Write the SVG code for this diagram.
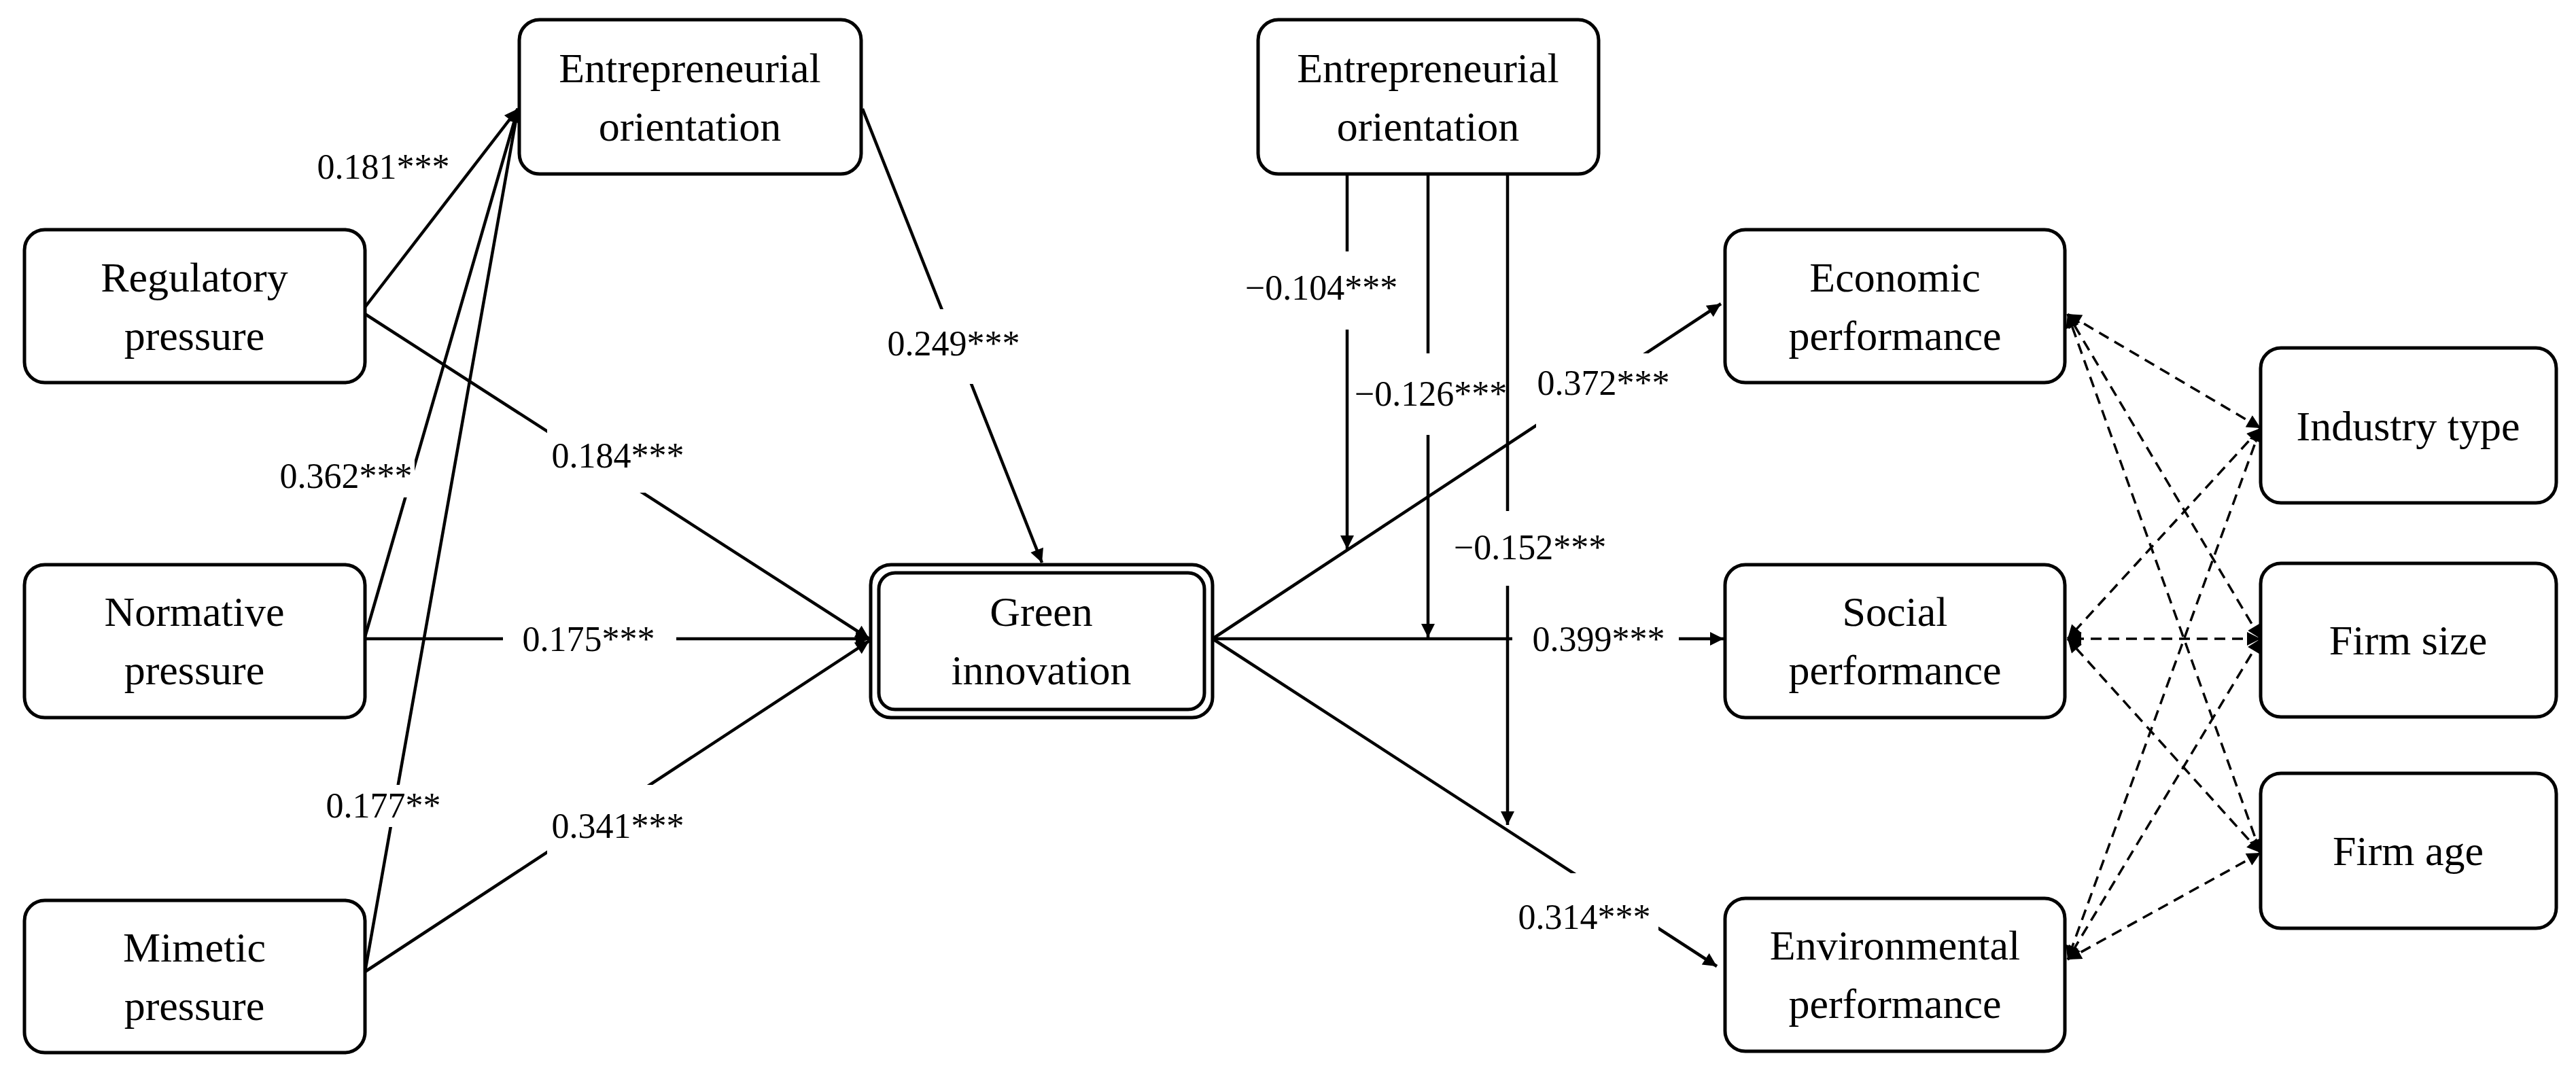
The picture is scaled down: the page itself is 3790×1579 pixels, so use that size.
<svg xmlns="http://www.w3.org/2000/svg" width="3790" height="1579" viewBox="0 0 3790 1579">
<style>
.n rect{fill:#fff;stroke:#000;stroke-width:5}
text{font-family:"Liberation Serif","Times New Roman",serif;fill:#000;text-anchor:middle;dominant-baseline:central}
.t{font-size:62px}
.l{font-size:52px}
.c line{stroke:#000;stroke-width:4.5}
.d line{stroke:#000;stroke-width:3.5;stroke-dasharray:16 10}
.bg{fill:#fff}
</style>
<defs>
<marker id="a" viewBox="0 0 10 10" refX="9" refY="5" markerWidth="6" markerHeight="6" markerUnits="userSpaceOnUse" orient="auto" style="overflow:visible"><path d="M0,0 L10,5 L0,10 z" transform="scale(3)" transform-origin="9 5"/></marker>
<marker id="s" viewBox="0 0 10 10" refX="10" refY="5" markerWidth="26" markerHeight="20" markerUnits="userSpaceOnUse" orient="auto-start-reverse"><path d="M0,0 L10,5 L0,10 z"/></marker>
</defs>
<g class="c">
<line x1="537" y1="452" x2="762" y2="160" marker-end="url(#s)"/>
<line x1="537" y1="937" x2="762" y2="160" marker-end="url(#s)"/>
<line x1="537" y1="1430" x2="762" y2="160" marker-end="url(#s)"/>
<line x1="537" y1="462" x2="1279" y2="940" marker-end="url(#s)"/>
<line x1="537" y1="940" x2="1279" y2="940" marker-end="url(#s)"/>
<line x1="537" y1="1430" x2="1279" y2="943" marker-end="url(#s)"/>
<line x1="1269" y1="160" x2="1533" y2="828" marker-end="url(#s)"/>
<line x1="1784" y1="940" x2="2532" y2="447" marker-end="url(#s)"/>
<line x1="1784" y1="940" x2="2536" y2="940" marker-end="url(#s)"/>
<line x1="1784" y1="940" x2="2526" y2="1422" marker-end="url(#s)"/>
<line x1="1982" y1="256" x2="1982" y2="808" marker-end="url(#s)"/>
<line x1="2101" y1="256" x2="2101" y2="938" marker-end="url(#s)"/>
<line x1="2218" y1="256" x2="2218" y2="1214" marker-end="url(#s)"/>
</g>
<g class="d">
<line x1="3326" y1="630" x2="3042" y2="462" marker-start="url(#s)" marker-end="url(#s)"/>
<line x1="3326" y1="630" x2="3042" y2="940" marker-start="url(#s)" marker-end="url(#s)"/>
<line x1="3326" y1="630" x2="3042" y2="1412" marker-start="url(#s)" marker-end="url(#s)"/>
<line x1="3326" y1="940" x2="3042" y2="462" marker-start="url(#s)" marker-end="url(#s)"/>
<line x1="3326" y1="940" x2="3042" y2="940" marker-start="url(#s)" marker-end="url(#s)"/>
<line x1="3326" y1="940" x2="3042" y2="1412" marker-start="url(#s)" marker-end="url(#s)"/>
<line x1="3326" y1="1255" x2="3042" y2="462" marker-start="url(#s)" marker-end="url(#s)"/>
<line x1="3326" y1="1255" x2="3042" y2="940" marker-start="url(#s)" marker-end="url(#s)"/>
<line x1="3326" y1="1255" x2="3042" y2="1412" marker-start="url(#s)" marker-end="url(#s)"/>
</g>
<g id="labels" class="l">
<text x="564" y="245">0.181***</text>
<rect class="bg" x="410" y="670" width="200" height="62"/><text x="509" y="700">0.362***</text>
<rect class="bg" x="470" y="1155" width="190" height="62"/><text x="564" y="1185">0.177**</text>
<rect class="bg" x="805" y="615" width="210" height="110"/><text x="909" y="670">0.184***</text>
<rect class="bg" x="740" y="905" width="255" height="70"/><text x="866" y="940">0.175***</text>
<rect class="bg" x="805" y="1155" width="210" height="110"/><text x="909" y="1215">0.341***</text>
<rect class="bg" x="1300" y="455" width="205" height="110"/><text x="1403" y="505">0.249***</text>
<rect class="bg" x="1840" y="370" width="210" height="115"/><text x="1944" y="423">−0.104***</text>
<rect class="bg" x="1995" y="520" width="212" height="120"/><text x="2105" y="579">−0.126***</text>
<rect class="bg" x="2260" y="520" width="205" height="115"/><text x="2359" y="563">0.372***</text>
<rect class="bg" x="2145" y="752" width="210" height="110"/><text x="2251" y="805">−0.152***</text>
<rect class="bg" x="2225" y="905" width="245" height="70"/><text x="2352" y="940">0.399***</text>
<rect class="bg" x="2225" y="1285" width="215" height="110"/><text x="2331" y="1349">0.314***</text>
</g>
<g id="regulatory" class="n"><rect x="36" y="338" width="501" height="225" rx="30"/><text class="t" x="286" y="408">Regulatory</text><text class="t" x="286" y="494">pressure</text></g>
<g id="normative" class="n"><rect x="36" y="831" width="501" height="225" rx="30"/><text class="t" x="286" y="900">Normative</text><text class="t" x="286" y="986">pressure</text></g>
<g id="mimetic" class="n"><rect x="36" y="1325" width="501" height="224" rx="30"/><text class="t" x="286" y="1394">Mimetic</text><text class="t" x="286" y="1480">pressure</text></g>
<g id="eo1" class="n"><rect x="764" y="29" width="503" height="227" rx="30"/><text class="t" x="1015" y="100">Entrepreneurial</text><text class="t" x="1015" y="186">orientation</text></g>
<g id="green" class="n"><rect x="1281" y="831" width="503" height="225" rx="30"/><rect x="1293" y="843" width="479" height="201" rx="24"/><text class="t" x="1532" y="900">Green</text><text class="t" x="1532" y="986">innovation</text></g>
<g id="eo2" class="n"><rect x="1851" y="29" width="501" height="227" rx="30"/><text class="t" x="2101" y="100">Entrepreneurial</text><text class="t" x="2101" y="186">orientation</text></g>
<g id="economic" class="n"><rect x="2538" y="338" width="500" height="225" rx="30"/><text class="t" x="2788" y="408">Economic</text><text class="t" x="2788" y="494">performance</text></g>
<g id="social" class="n"><rect x="2538" y="831" width="500" height="225" rx="30"/><text class="t" x="2788" y="900">Social</text><text class="t" x="2788" y="986">performance</text></g>
<g id="environmental" class="n"><rect x="2538" y="1322" width="500" height="225" rx="30"/><text class="t" x="2788" y="1391">Environmental</text><text class="t" x="2788" y="1477">performance</text></g>
<g id="industry" class="n"><rect x="3326" y="512" width="435" height="228" rx="30"/><text class="t" x="3543" y="627">Industry type</text></g>
<g id="size" class="n"><rect x="3326" y="829" width="435" height="226" rx="30"/><text class="t" x="3543" y="942">Firm size</text></g>
<g id="age" class="n"><rect x="3326" y="1138" width="435" height="228" rx="30"/><text class="t" x="3543" y="1252">Firm age</text></g>
</svg>
